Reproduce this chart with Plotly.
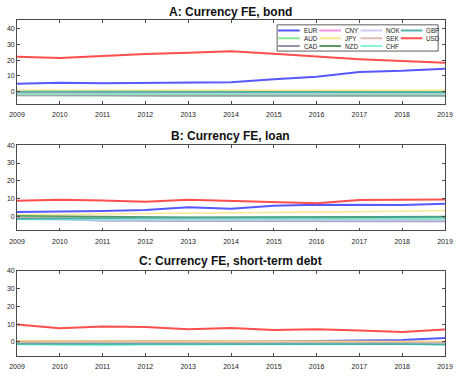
import plotly.graph_objects as go
from plotly.subplots import make_subplots

# ---- data -------------------------------------------------------------
years = list(range(2009, 2020))

currencies = ["EUR", "AUD", "CAD", "CNY", "JPY", "NZD", "NOK", "SEK", "CHF", "GBP", "USD"]

colors = {
    "EUR": "#3b3bff", "AUD": "#6ee87a", "CAD": "#85809c", "CNY": "#ff80dc",
    "JPY": "#ffe27e", "NZD": "#3f8a4c", "NOK": "#c6c2f5", "SEK": "#d9abab",
    "CHF": "#70f5d0", "GBP": "#3aa9a2", "USD": "#ff3030",
}

panel_titles = ["A: Currency FE, bond", "B: Currency FE, loan", "C: Currency FE, short-term debt"]

# Panel A: bond
bond = {
    "EUR": [5.0, 5.7, 5.3, 5.5, 6.1, 5.9, 7.9, 9.4, 12.5, 13.2, 14.6],
    "AUD": [-0.3, -0.3, -0.3, -0.3, -0.3, -0.3, -0.3, -0.3, -0.2, -0.2, -0.2],
    "CAD": [-1.5, -2.0, -2.3, -2.4, -2.5, -2.5, -2.5, -2.5, -2.5, -2.5, -2.5],
    "CNY": [-1.0, -1.0, -1.0, -1.0, -1.0, -1.0, -1.0, -1.1, -1.1, -1.1, -1.1],
    "JPY": [1.0, 0.9, 0.9, 0.9, 0.9, 0.9, 0.8, 0.8, 0.8, 0.8, 0.8],
    "NZD": [-2.5, -2.6, -2.6, -2.6, -2.6, -2.6, -2.6, -2.6, -2.6, -2.6, -2.6],
    "NOK": [-2.0, -2.0, -2.0, -2.0, -2.0, -2.0, -2.0, -2.0, -2.0, -2.0, -2.0],
    "SEK": [-1.8, -1.8, -1.8, -1.8, -1.8, -1.8, -1.8, -1.8, -1.8, -1.8, -1.8],
    "CHF": [-1.5, -1.5, -1.5, -1.5, -1.5, -1.5, -1.5, -1.5, -1.5, -1.5, -1.5],
    "GBP": [0.0, -0.1, -0.1, -0.2, -0.2, -0.2, -0.2, -0.2, -0.2, -0.2, -0.3],
    "USD": [22.2, 21.4, 22.6, 23.9, 24.7, 25.7, 24.0, 22.2, 20.6, 19.5, 18.3],
}

# Panel B: loan
loan = {
    "EUR": [2.4, 2.5, 2.9, 3.5, 5.1, 4.2, 5.9, 6.5, 6.6, 6.4, 7.0],
    "AUD": [-0.2, -0.5, -0.8, -1.0, -1.0, -0.8, -0.8, -0.6, -0.5, -0.4, -0.5],
    "CAD": [-1.0, -1.5, -2.5, -2.8, -2.8, -2.8, -2.8, -2.8, -2.8, -2.8, -3.0],
    "CNY": [-1.0, -1.2, -1.5, -1.6, -1.8, -1.8, -1.8, -1.8, -1.8, -1.8, -1.8],
    "JPY": [0.8, 1.0, 1.2, 1.3, 1.5, 1.8, 2.0, 2.2, 2.5, 2.8, 3.2],
    "NZD": [0.3, 0.0, -0.3, -0.5, -0.6, -0.6, -0.5, -0.6, -0.4, -0.4, -0.2],
    "NOK": [-1.5, -2.0, -2.5, -2.5, -2.5, -2.5, -2.5, -2.5, -2.5, -2.5, -2.5],
    "SEK": [-1.0, -1.0, -1.2, -1.2, -1.2, -1.2, -1.2, -1.2, -1.2, -1.2, -1.2],
    "CHF": [-1.8, -1.8, -1.8, -1.8, -1.8, -1.8, -1.6, -1.6, -1.6, -1.6, -1.6],
    "GBP": [-1.5, -1.2, -1.0, -0.8, -0.8, -0.8, -0.6, -0.6, -0.4, -0.5, -0.3],
    "USD": [8.8, 9.3, 8.9, 8.2, 9.3, 8.6, 8.0, 7.3, 9.1, 9.3, 9.4],
}

# Panel C: short-term debt
short_term = {
    "EUR": [0.3, 0.2, 0.3, 0.2, 0.2, 0.0, 0.2, 0.4, 0.5, 1.0, 2.2],
    "AUD": [-1.0, -1.0, -1.0, -1.0, -1.0, -0.8, -1.0, -0.2, -0.6, -0.8, -0.5],
    "CAD": [0.5, 0.3, 0.6, 0.4, 0.3, 0.2, 0.1, 0.6, 0.3, 0.1, 0.0],
    "CNY": [-0.3, -0.3, -0.3, -0.3, -0.3, -0.3, -0.3, -0.3, -0.3, -0.3, -0.3],
    "JPY": [0.5, 0.5, 0.5, 0.4, 0.4, 0.3, 0.3, 0.3, 0.2, 0.2, 0.2],
    "NZD": [-0.8, -0.8, -1.0, -1.0, -1.0, -1.0, -1.0, -1.0, -1.2, -1.2, -1.5],
    "NOK": [-0.5, -0.6, -0.6, -0.6, -0.6, -0.6, -0.6, -0.6, -0.6, -0.6, -0.8],
    "SEK": [-0.5, -0.5, -0.5, -0.6, -0.6, -0.6, -0.6, -0.6, -0.6, -0.6, -0.6],
    "CHF": [-1.5, -1.8, -2.0, -1.6, -1.5, -1.5, -1.3, -1.2, -1.2, -1.4, -1.5],
    "GBP": [-1.2, -1.2, -1.3, -1.3, -1.3, -1.2, -1.2, -1.0, -1.2, -1.3, -1.5],
    "USD": [9.7, 7.7, 8.6, 8.4, 7.1, 7.8, 6.6, 7.1, 6.4, 5.5, 7.0],
}

panels = [bond, loan, short_term]
y_ranges = [[-8, 45.5], [-8, 40], [-8, 40]]
y_ticks = [0, 10, 20, 30, 40]

# ---- layout geometry (pixels) ----------------------------------------
W, H = 460, 377
ML, MR, MT, MB = 17, 7, 20, 11
PW, PH = W - ML - MR, H - MT - MB


def px_x(x):
    return (x - ML) / PW


def px_y(y):
    return (H - MB - y) / PH


domains = [
    [px_y(106.7), 1.0],
    [px_y(236.7), px_y(149.0)],
    [0.0, px_y(278.3)],
]

fig = make_subplots(rows=3, cols=1)

thick = {"EUR", "USD"}
for i, data in enumerate(panels):
    for cur in currencies:
        fig.add_trace(
            go.Scatter(
                x=years, y=data[cur], mode="lines", name=cur,
                line=dict(color=colors[cur], width=2.0 if cur in thick else 1.6),
                opacity=0.85, showlegend=False, hoverinfo="x+y+name",
            ),
            row=i + 1, col=1,
        )

axis_color = "#4a4a4a"
tick_font = dict(family="Liberation Sans, Arial", size=7, color="#222")
for i in range(3):
    xa = "xaxis" if i == 0 else f"xaxis{i + 1}"
    ya = "yaxis" if i == 0 else f"yaxis{i + 1}"
    fig.layout[xa].update(
        domain=[0, 1], range=[2009, 2019], tickmode="array", tickvals=years,
        ticktext=[str(y) for y in years], ticks="inside", ticklen=3,
        tickcolor=axis_color, tickwidth=0.8, showline=True, linecolor=axis_color,
        linewidth=0.8, mirror="ticks", showgrid=False, zeroline=False,
        tickfont=tick_font, ticklabelstandoff=4, ticklabeloverflow="allow",
    )
    fig.layout[ya].update(
        domain=domains[i], range=y_ranges[i], tickmode="array", tickvals=y_ticks,
        ticks="inside", ticklen=3, tickcolor=axis_color, tickwidth=0.8,
        showline=True, linecolor=axis_color, linewidth=0.8, mirror="ticks",
        showgrid=False, zeroline=False, tickfont=tick_font,
    )

# panel titles
title_y = [11.7, 139.0, 268.0]
for t, yp in zip(panel_titles, title_y):
    fig.add_annotation(
        text=f"<b>{t}</b>", xref="paper", yref="paper", x=px_x(234.5), y=px_y(yp),
        xanchor="center", yanchor="middle", showarrow=False,
        font=dict(family="Liberation Sans, Arial", size=12, color="#111"),
    )

# legend box for panel A (4 columns, filled column by column)
box = dict(x0=282, x1=446, y0=25, y1=52)
fig.add_shape(
    type="rect", xref="paper", yref="paper",
    x0=px_x(box["x0"]), x1=px_x(box["x1"]), y0=px_y(box["y1"]), y1=px_y(box["y0"]),
    line=dict(color="#333", width=0.8), fillcolor="white", layer="above",
)
col_x = [283, 325, 367, 408]
row_y = [30.8, 38.8, 46.8]
for k, cur in enumerate(currencies):
    c, r = divmod(k, 3)
    x0, yy = col_x[c], row_y[r]
    fig.add_shape(
        type="line", xref="paper", yref="paper",
        x0=px_x(x0), x1=px_x(x0 + 22), y0=px_y(yy), y1=px_y(yy),
        line=dict(color=colors[cur], width=2.0),
        opacity=0.85, layer="above",
    )
    fig.add_annotation(
        text=cur, xref="paper", yref="paper", x=px_x(x0 + 24), y=px_y(yy),
        xanchor="left", yanchor="middle", showarrow=False,
        font=dict(family="Liberation Sans, Arial", size=6.3, color="#222"),
    )

fig.update_layout(
    width=W, height=H, margin=dict(l=ML, r=MR, t=MT, b=MB),
    paper_bgcolor="white", plot_bgcolor="white", showlegend=False,
)

fig.write_html("out.html")
